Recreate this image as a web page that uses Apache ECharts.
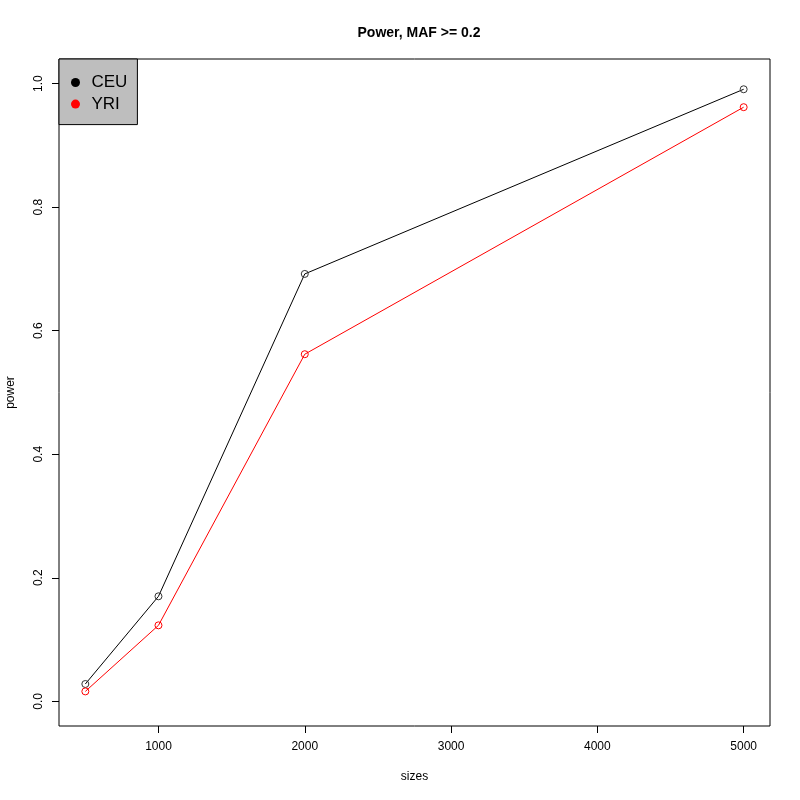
<!DOCTYPE html>
<html>
<head>
<meta charset="utf-8">
<script src="https://cdn.jsdelivr.net/npm/echarts@6/dist/echarts.min.js"></script>
<style>html,body{margin:0;padding:0;background:#fff}#c{width:800px;height:800px}</style>
</head>
<body>
<div id="c"></div>
<script>
const sizes = [500, 1000, 2000, 5000];
const ceu = [0.028, 0.170, 0.692, 0.991];
const yri = [0.016, 0.123, 0.562, 0.962];
const xTicks = [1000, 2000, 3000, 4000, 5000];
const yTicks = [0, 0.2, 0.4, 0.6, 0.8, 1.0];
const FONT = 'Liberation Sans, Arial, Helvetica, sans-serif';

const chart = echarts.init(document.getElementById('c'), null, {renderer: 'canvas'});
chart.setOption({
  animation: false,
  backgroundColor: '#fff',
  title: {
    text: 'Power, MAF >= 0.2',
    left: 414, top: 21, textAlign: 'center',
    textStyle: {fontFamily: FONT, fontSize: 14, fontWeight: 'bold', color: '#000'}
  },
  legend: {
    orient: 'vertical', left: 59, top: 59,
    padding: [15, 10, 12, 12],
    backgroundColor: '#bebebe', borderColor: '#000', borderWidth: 1, borderRadius: 0,
    itemWidth: 22, itemHeight: 9, itemGap: 4.6,
    textStyle: {fontFamily: FONT, fontSize: 17, lineHeight: 16, color: '#000'},
    data: [
      {name: 'CEU', icon: 'circle', itemStyle: {color: '#000', borderWidth: 0}},
      {name: 'YRI', icon: 'circle', itemStyle: {color: '#ff0000', borderWidth: 0}}
    ]
  },
  grid: {left: 59, right: 30, top: 59, bottom: 74, outerBoundsMode: 'none', containLabel: false,
    show: true, borderColor: '#000', borderWidth: 1, backgroundColor: 'transparent'},
  xAxis: {
    type: 'value', min: 320, max: 5180,
    name: 'sizes', nameLocation: 'middle', nameGap: 45,
    nameTextStyle: {fontFamily: FONT, fontSize: 12, color: '#000'},
    axisLine: {show: false, onZero: false},
    axisTick: {show: true, inside: false, length: 7, lineStyle: {color: '#000'}, customValues: xTicks},
    axisLabel: {margin: 15, fontFamily: FONT, fontSize: 12, color: '#000', customValues: xTicks,
      formatter: v => String(v)},
    splitLine: {show: false}
  },
  yAxis: {
    type: 'value', min: -0.04, max: 1.04,
    name: 'power', nameLocation: 'middle', nameGap: 42, nameRotate: 90,
    nameTextStyle: {fontFamily: FONT, fontSize: 12, color: '#000'},
    axisLine: {show: false, onZero: false},
    axisTick: {show: true, inside: false, length: 7, lineStyle: {color: '#000'}, customValues: yTicks},
    axisLabel: {margin: 14, rotate: 90, fontFamily: FONT, fontSize: 12, color: '#000', customValues: yTicks,
      formatter: v => v.toFixed(1)},
    splitLine: {show: false}
  },
  series: [
    {name: 'CEU', type: 'line', data: sizes.map((s, i) => [s, ceu[i]]),
     symbol: 'circle', symbolSize: 7, lineStyle: {color: '#000', width: 1},
     itemStyle: {color: 'rgba(255,255,255,0)', borderColor: '#333', borderWidth: 1}},
    {name: 'YRI', type: 'line', data: sizes.map((s, i) => [s, yri[i]]),
     symbol: 'circle', symbolSize: 7, lineStyle: {color: '#ff0000', width: 1},
     itemStyle: {color: 'rgba(255,255,255,0)', borderColor: '#ff0000', borderWidth: 1}}
  ]
});
</script>
</body>
</html>
